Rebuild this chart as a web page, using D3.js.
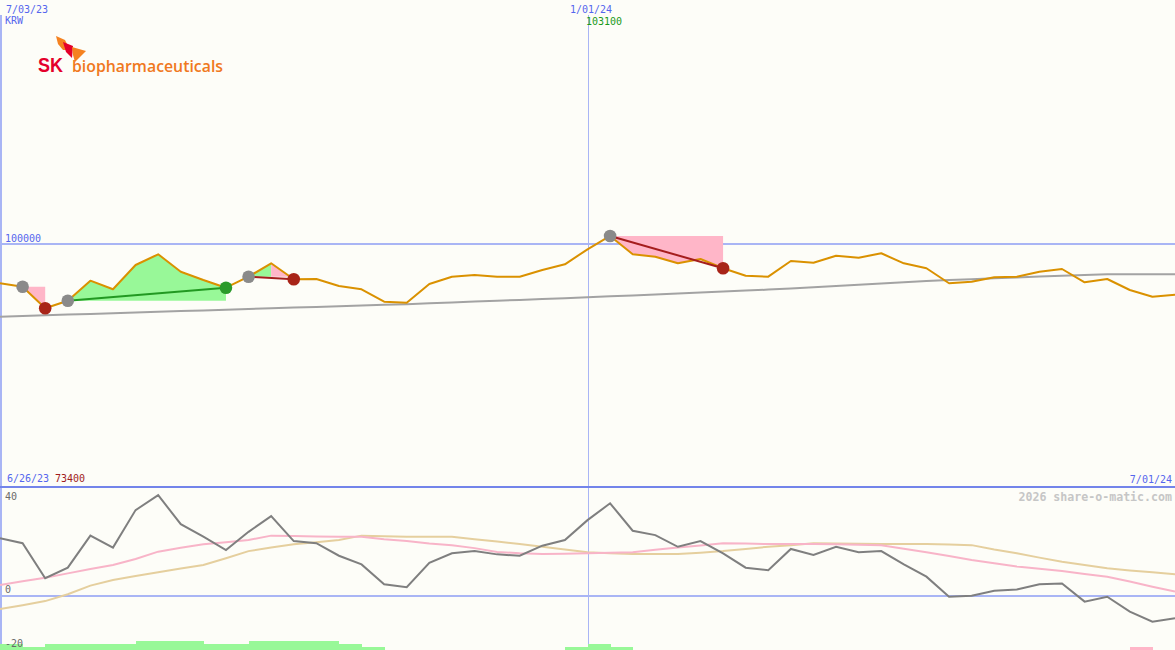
<!DOCTYPE html>
<html>
<head>
<meta charset="utf-8">
<script src="https://cdn.jsdelivr.net/npm/d3@7"></script>
<style>
html,body{margin:0;padding:0;background:#fdfdf8;}
svg{display:block;}
</style>
</head>
<body>
<svg id="chart" width="1175" height="650"></svg>
<script>
// ---------------- data ----------------
const startDate = "2023-07-03";           // first weekly bar
const weekCount = 53;
const currency = "KRW";
const price = [83660,82260,73400,76510,84730,81190,91170,95570,88420,85010,
  81850,86370,91870,85300,85420,82550,81190,76100,75690,83370,
  86370,87070,86370,86370,89120,91460,97620,103100,95570,94580,
  91870,93640,89820,86780,86370,92820,92120,95000,94170,95980,
  91870,89820,83660,84320,86120,86370,88420,89530,84070,85420,
  80910,78160,78980];
const longAvg = [69940,70230,70510,70800,71090,71380,71660,71950,72240,72520,
  72810,73100,73380,73670,73960,74250,74530,74820,75100,75440,
  75790,76130,76480,76820,77170,77510,77900,78300,78690,79090,
  79480,79880,80270,80670,81060,81500,82000,82500,83050,83600,
  84100,84600,85000,85350,85700,86050,86400,86750,87100,87350,
  87350,87350,87350];
const oscMain = [21.1,19.3,6.4,10.3,22.1,17.7,31.5,37.0,26.3,21.7,
  16.8,23.5,29.3,20.1,19.3,14.7,11.5,4.2,3.1,12.1,
  15.6,16.4,15.2,14.7,18.4,20.5,27.8,34.0,23.9,22.3,
  18.0,20.1,15.6,10.3,9.4,17.2,15.0,18.0,16.0,16.4,
  11.5,7.0,-0.4,0.0,1.8,2.3,4.2,4.5,-2.2,-0.4,
  -5.9,-9.6,-8.3];
const oscFast = [3.9,5.3,6.6,8.2,9.8,11.3,13.5,16.2,17.6,18.9,
  19.7,20.5,22.1,22.0,21.8,21.7,21.7,20.8,20.1,19.2,
  18.6,17.5,16.1,15.6,15.3,15.4,15.6,15.8,16.0,16.9,
  17.7,18.5,19.3,19.2,19.0,19.0,19.0,18.9,18.7,18.6,
  17.3,16.0,14.6,13.1,11.9,10.7,9.9,9.1,8.0,7.0,
  5.2,3.3,1.5];
const oscSlow = [-4.9,-3.5,-2.0,0.5,3.7,5.8,7.2,8.6,10.0,11.3,
  13.8,16.4,17.7,18.9,19.7,20.5,22.1,21.9,21.7,21.7,
  21.7,20.8,19.9,19.0,18.0,17.0,16.0,15.6,15.3,15.3,
  15.3,15.8,16.4,17.2,18.0,18.6,19.3,19.2,19.1,19.0,
  19.0,19.0,18.8,18.6,17.0,15.6,14.0,12.5,11.3,10.1,
  9.3,8.6,7.9];
const signalBars = [2,1,2,2,2,2,3,3,3,2,
  2,3,3,3,3,2,1,0,0,0,
  0,0,0,0,0,1,2,1,0,0,
  0,0,0,0,0,0,0,0,0,0,
  0,0,0,0,0,0,0,0,0,0,
  -1,0,0];
// trade signals: start week, end week, outcome
const signals = [
  {s:1, e:2, out:"loss"},
  {s:3, e:10, out:"gain"},
  {s:11, e:13, out:"loss"},
  {s:27, e:32, out:"loss"}
];
// shaded regions between the price and the entry level
const shades = [
  {from:1, to:2, ref:1, out:"loss"},
  {from:3, to:10, ref:3, out:"gain"},
  {from:11, to:12, ref:11, out:"gain"},
  {from:12, to:13, ref:11, out:"loss"},
  {from:27, to:32, ref:27, out:"loss"}
];
const priceTicks = [100000];
const oscTicks = [40, 0, -20];
const oscGrid = [0];
const markerDate = "2024-01-01";
const endDate = "2024-07-01";
const minLabel = {date:"6/26/23", value:"73400"};
const maxLabel = {value:"103100"};
const credit = "2026 share-o-matic.com";

// ---------------- setup ----------------
const W = 1175, H = 650, split = 487;
const parse = d3.timeParse("%Y-%m-%d");
const t0 = parse(startDate);
const dates = d3.range(weekCount).map(i => d3.timeDay.offset(t0, 7 * i));
const x = d3.scaleTime().domain([t0, parse(endDate)]).range([0, W]);
const yP = d3.scaleLinear().domain([0, 200000]).range([split, 0]);
const yO = d3.scaleLinear().domain([-20, 40]).range([H, split]);
const fmt = d3.timeFormat("%-m/%d/%y");

const svg = d3.select("#chart");
svg.append("rect").attr("width", W).attr("height", H).attr("fill", "#fdfdf8");

const gridC = "#a9b5f5";
svg.selectAll(".pg").data(priceTicks).join("line")
  .attr("x1", 0).attr("x2", W)
  .attr("y1", d => Math.round(yP(d))).attr("y2", d => Math.round(yP(d)))
  .attr("stroke", gridC).attr("stroke-width", 2).attr("shape-rendering", "crispEdges");
svg.selectAll(".og").data(oscGrid).join("line")
  .attr("x1", 0).attr("x2", W)
  .attr("y1", d => Math.round(yO(d))).attr("y2", d => Math.round(yO(d)))
  .attr("stroke", gridC).attr("stroke-width", 2).attr("shape-rendering", "crispEdges");
const mx = Math.round(x(parse(markerDate))) + 0.5;
svg.append("line").attr("x1", mx).attr("x2", mx).attr("y1", 15).attr("y2", H)
  .attr("stroke", gridC).attr("stroke-width", 1).attr("shape-rendering", "crispEdges");
svg.append("line").attr("x1", 1).attr("x2", 1).attr("y1", 15).attr("y2", H)
  .attr("stroke", gridC).attr("stroke-width", 2).attr("shape-rendering", "crispEdges");

// signal bars at bottom
const step = x(dates[1]) - x(dates[0]);
svg.selectAll(".sb").data(signalBars.map((v, i) => ({v, i})).filter(d => d.v !== 0)).join("rect")
  .attr("x", d => x(dates[d.i]))
  .attr("width", step + 0.5)
  .attr("y", d => yO(-20 + Math.abs(d.v) * 1.15))
  .attr("height", d => yO(-20) - yO(-20 + Math.abs(d.v) * 1.15))
  .attr("fill", d => d.v > 0 ? "#98f898" : "#ffb6c8")
  .attr("shape-rendering", "crispEdges");

// shaded regions
const fillC = {gain:"#98f898", loss:"#ffb6c8"};
shades.forEach(s => {
  const idx = d3.range(s.from, s.to + 1);
  const area = d3.area()
    .x(i => x(dates[i]))
    .y0(yP(price[s.ref]))
    .y1(i => yP(price[i]));
  svg.append("path").datum(idx).attr("d", area).attr("fill", fillC[s.out]);
});

const lineP = arr => d3.line().x((d, i) => x(dates[i])).y(d => yP(d))(arr);
svg.append("path").attr("d", lineP(longAvg)).attr("fill", "none")
  .attr("stroke", "#a3a3a3").attr("stroke-width", 2);
svg.append("path").attr("d", lineP(price)).attr("fill", "none")
  .attr("stroke", "#da9100").attr("stroke-width", 2).attr("stroke-linejoin", "round");

const lineC = {gain:"#229922", loss:"#a51d1d"};
const dotC = {gain:"#2a9a2a", loss:"#a82418"};
signals.forEach(s => {
  if (s.e - s.s > 1 || s.out === "gain")
    svg.append("line")
      .attr("x1", x(dates[s.s])).attr("y1", yP(price[s.s]))
      .attr("x2", x(dates[s.e])).attr("y2", yP(price[s.e]))
      .attr("stroke", lineC[s.out]).attr("stroke-width", 2);
});
signals.forEach(s => {
  svg.append("circle").attr("cx", x(dates[s.s])).attr("cy", yP(price[s.s])).attr("r", 6.3)
    .attr("fill", "#8a8a8a");
  svg.append("circle").attr("cx", x(dates[s.e])).attr("cy", yP(price[s.e])).attr("r", 6.3)
    .attr("fill", dotC[s.out]);
});

const lineO = arr => d3.line().x((d, i) => x(dates[i])).y(d => yO(d))(arr);
svg.append("path").attr("d", lineO(oscSlow)).attr("fill", "none")
  .attr("stroke", "#e5cf9e").attr("stroke-width", 2);
svg.append("path").attr("d", lineO(oscFast)).attr("fill", "none")
  .attr("stroke", "#f8b4c8").attr("stroke-width", 2);
svg.append("path").attr("d", lineO(oscMain)).attr("fill", "none")
  .attr("stroke", "#7f7f7f").attr("stroke-width", 2);

svg.append("line").attr("x1", 0).attr("x2", W).attr("y1", split).attr("y2", split)
  .attr("stroke", "#7384ea").attr("stroke-width", 2).attr("shape-rendering", "crispEdges");

// ---------------- texts ----------------
const blue = "#5566ee";
function txt(str, xx, yy, col, anchor, extra) {
  const t = svg.append("text").attr("x", xx).attr("y", yy).attr("fill", col)
    .style("font-family", "'DejaVu Sans Mono', monospace")
    .attr("font-size", 10).attr("text-anchor", anchor || "start").text(str);
  if (extra) extra(t);
  return t;
}
txt(fmt(dates[0]), 6, 12.5, blue);
txt(currency, 5, 24, blue);
txt(fmt(parse(markerDate)), 570, 12.5, blue);
txt(maxLabel.value, 586, 25, "#1a9a1a");
priceTicks.forEach(v => txt(d3.format("d")(v), 5, Math.round(yP(v)) - 2.5, blue));
txt(minLabel.date, 7, 482, blue);
txt(minLabel.value, 55, 482, "#a01c1c");
txt(fmt(parse(endDate)), 1172, 482.5, blue, "end");
oscTicks.forEach(v => {
  const yy = v === 40 ? yO(v) + 12.5 : (v === -20 ? yO(v) - 3.5 : yO(v) - 3);
  txt(String(v), 5, yy, "#6a6a6a");
});
txt(credit, 1172, 500.5, "#c6c6c6", "end", t => t.attr("font-size", 11.6).attr("font-weight", "bold"));

// ---------------- logo ----------------
const logo = svg.append("g");
logo.append("path").attr("d", "M56,36 L65,40 L70,50 L63,50 L58,44 Z").attr("fill", "#f58220");
logo.append("path").attr("d", "M63,42 L73,46 L72,58 L66,52 Z").attr("fill", "#e4002b");
logo.append("path").attr("d", "M72,47 L86,51 L80,57 L75,62 L73,55 Z").attr("fill", "#f58220");
logo.append("text").attr("x", 38).attr("y", 72).attr("fill", "#e4002b")
  .style("font-family", "'Liberation Sans', Arial, sans-serif").attr("font-weight", "bold")
  .attr("font-size", 21).attr("textLength", 25).attr("lengthAdjust", "spacingAndGlyphs").text("SK");
logo.append("text").attr("x", 72).attr("y", 72).attr("fill", "#f07820")
  .style("font-family", "'Open Sans', sans-serif").attr("font-size", 15.5).attr("font-weight", 600)
  .attr("textLength", 151).attr("lengthAdjust", "spacingAndGlyphs").text("biopharmaceuticals");
</script>
</body>
</html>
